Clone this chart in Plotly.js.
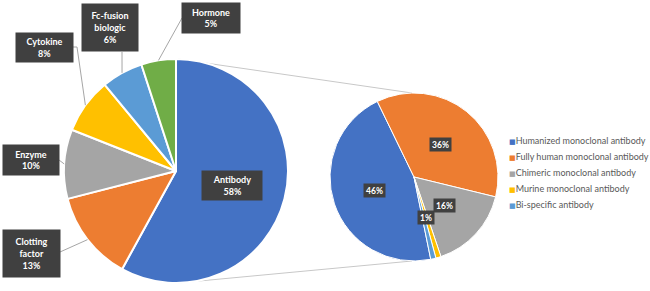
<!DOCTYPE html>
<html><head><meta charset="utf-8">
<script src="https://cdn.plot.ly/plotly-3.0.1.min.js"></script>
<style>html,body{margin:0;padding:0;background:#fff}#chart{width:650px;height:291px}</style>
</head><body><div id="chart"></div>
<script>
// ---- data ----
const mainLabels = ["Antibody", "Clotting factor", "Enzyme", "Cytokine", "Fc-fusion biologic", "Hormone"];
const mainValues = [58, 13, 10, 8, 6, 5];
const mainColors = ["#4472C4", "#ED7D31", "#A5A5A5", "#FFC000", "#5B9BD5", "#70AD47"];
const subLabels = ["Humanized monoclonal antibody", "Fully human monoclonal antibody", "Chimeric monoclonal antibody", "Murine monoclonal antibody", "Bi-specific antibody"];
const subValues = [46, 36, 16, 1, 1];
const subColors = ["#4472C4", "#ED7D31", "#A5A5A5", "#FFC000", "#5B9BD5"];

// ---- geometry (pixels) ----
const W = 650, H = 291;
const px = x => x / W, py = y => 1 - y / H;
const main = {cx: 176, cy: 171, r: 112, rot: 0};
const sub = {cx: 414, cy: 177, r: 84, rot: 168.5};
function dom(p) { return {x: [px(p.cx - p.r), px(p.cx + p.r)], y: [py(p.cy + p.r), py(p.cy - p.r)]}; }
function midAngles(vals, rot) {
  const tot = vals.reduce((a, b) => a + b, 0);
  let acc = 0;
  return vals.map(v => { const m = rot + (acc + v / 2) / tot * 360; acc += v; return m; });
}
function polar(p, ang, f) {
  const a = ang * Math.PI / 180;
  return [p.cx + p.r * f * Math.sin(a), p.cy - p.r * f * Math.cos(a)];
}

const traces = [
  {type: 'pie', labels: mainLabels, values: mainValues, sort: false, direction: 'clockwise', rotation: main.rot,
   marker: {colors: mainColors, line: {color: '#ffffff', width: 2}}, textinfo: 'none', showlegend: false, domain: dom(main)},
  {type: 'pie', labels: subLabels, values: subValues, sort: false, direction: 'clockwise', rotation: sub.rot,
   marker: {colors: subColors, line: {color: '#ffffff', width: 1}}, textinfo: 'none', showlegend: false, domain: dom(sub)}
];

const boxFont = {family: 'Lato, "DejaVu Sans", sans-serif', size: 9, color: '#ffffff', weight: 'bold'};
const annotations = [];
const shapes = [];

// main pie: inside label for first slice, callouts for others
const mMid = midAngles(mainValues, main.rot);
const calloutBoxes = [null, [31, 253, 57, 47], [31, 160, 56, 30], [44, 48, 57, 29], [110, 28, 56, 47], [211, 18, 58, 30]];
const leaderStarts = [null, [[60, 252]], [[59, 160]], [[73, 47], [77, 47]], [[122, 52]], [[182, 18]]];
mainLabels.forEach((lab, i) => {
  const txt = '<b>' + lab.replace(/ /g, '<br>') + '<br>' + mainValues[i] + '%</b>';
  if (i === 0) {
    const c = polar(main, mMid[i], 0.52);
    annotations.push({xref: 'paper', yref: 'paper', x: px(c[0]), y: py(c[1]), text: txt, showarrow: false,
      bgcolor: '#404040', font: boxFont, width: 60, height: 29, borderpad: 0, xanchor: 'center', yanchor: 'middle'});
  } else {
    const b = calloutBoxes[i];
    annotations.push({xref: 'paper', yref: 'paper', x: px(b[0]), y: py(b[1]), text: txt, showarrow: false,
      bgcolor: '#404040', font: boxFont, width: b[2], height: b[3], borderpad: 0, xanchor: 'center', yanchor: 'middle'});
    const e = polar(main, mMid[i], 1);
    const pts = leaderStarts[i].concat([e]);
    const path = pts.map((p, k) => (k ? 'L' : 'M') + px(p[0]) + ',' + py(p[1])).join(' ');
    shapes.push({type: 'path', xref: 'paper', yref: 'paper', path: path, line: {color: '#A6A6A6', width: 1}});
  }
});

// second pie inside labels (a label that would sit on top of the previous one is hidden, as in the original)
const sMid = midAngles(subValues, sub.rot);
let prev = null;
subValues.forEach((v, i) => {
  const c = polar(sub, sMid[i], 0.5);
  if (prev && Math.hypot(c[0] - prev[0], c[1] - prev[1]) < 10) return;
  prev = c;
  annotations.push({xref: 'paper', yref: 'paper', x: px(c[0]), y: py(c[1]), text: '<b>' + v + '%</b>', showarrow: false,
    bgcolor: '#404040', font: {family: boxFont.family, size: 8.5, color: '#ffffff', weight: 'bold'},
    width: v >= 10 ? 21 : 16, height: 13, borderpad: 0, xanchor: 'center', yanchor: 'middle'});
});

// legend for second pie
subLabels.forEach((lab, i) => {
  annotations.push({xref: 'paper', yref: 'paper', x: px(507), y: py(140 + 16.2 * i), xanchor: 'left', yanchor: 'middle',
    showarrow: false, text: '<span style="color:' + subColors[i] + ';font-size:7px">■</span>' + lab,
    font: {family: 'Lato, "DejaVu Sans", sans-serif', size: 9, color: '#595959'}});
});

// connector lines between pies
[[main.cy - main.r, sub.cy - sub.r], [main.cy + main.r, sub.cy + sub.r]].forEach(([y1, y2]) => {
  shapes.push({type: 'line', xref: 'paper', yref: 'paper', x0: px(main.cx + 2), y0: py(y1), x1: px(sub.cx - 2), y1: py(y2),
    line: {color: '#C8C8C8', width: 1}, layer: 'below'});
});

const layout = {
  width: W, height: H, margin: {l: 0, r: 0, t: 0, b: 0},
  paper_bgcolor: '#ffffff', plot_bgcolor: '#ffffff', showlegend: false,
  annotations: annotations, shapes: shapes
};
Plotly.newPlot('chart', traces, layout, {displayModeBar: false, staticPlot: true});
</script>
</body></html>
